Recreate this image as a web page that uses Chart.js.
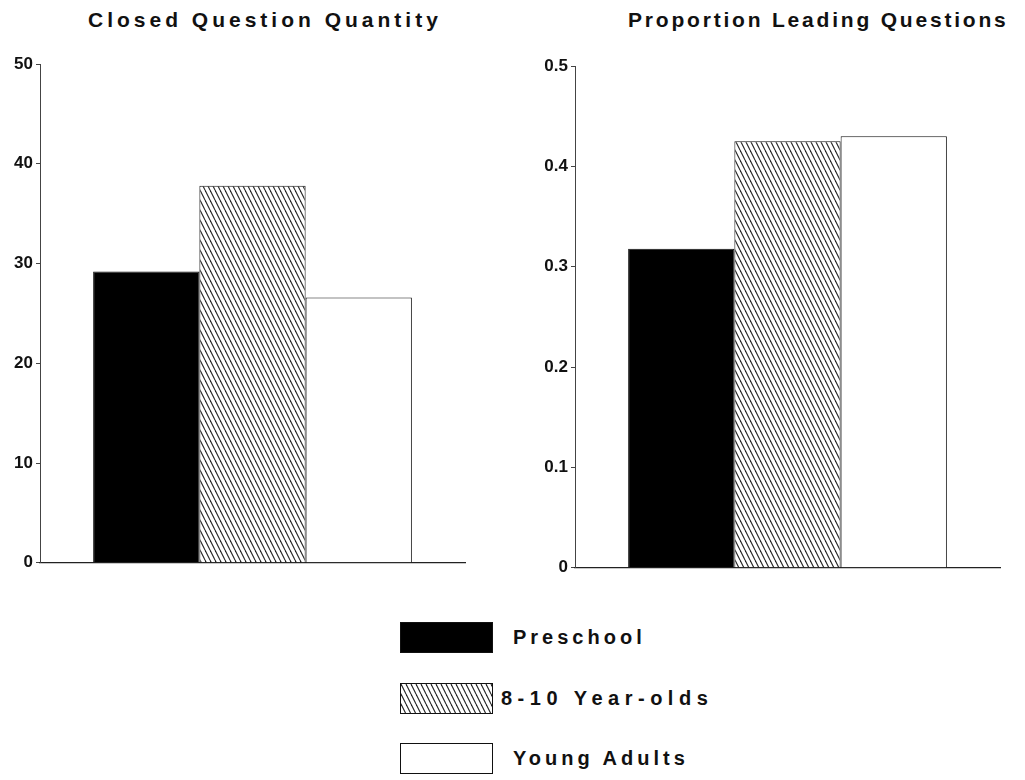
<!DOCTYPE html>
<html>
<head>
<meta charset="utf-8">
<script src="https://cdn.jsdelivr.net/npm/chart.js@4.4.1/dist/chart.umd.min.js"></script>
<style>
    body { margin: 0; background: #fff; width: 1025px; height: 780px; position: relative; overflow: hidden; font-family: "Liberation Sans", Arial, sans-serif; }
    .title { position: absolute; top: 8px; font-size: 21px; font-weight: bold; color: #111; white-space: nowrap; }
    .box { position: absolute; }
    .legend-row { position: absolute; left: 400px; height: 31px; display: flex; align-items: center; }
    .legend-row canvas { border: 1px solid #111; display: block; }
    .legend-row span { font-size: 20px; font-weight: bold; letter-spacing: 4px; color: #111; margin-left: 20px; }
</style>
</head>
<body>
<div class="title" id="titleLeft" style="left: 88px; letter-spacing: 4px;"></div>
<div class="title" id="titleRight" style="left: 628px; letter-spacing: 2.8px;"></div>
<div class="box" style="left: 0; top: 50px; width: 480px; height: 526px;"><canvas id="closedChart"></canvas></div>
<div class="box" style="left: 520px; top: 50px; width: 495px; height: 531px;"><canvas id="leadingChart"></canvas></div>
<div id="legend"></div>

<script>
// Data
const groups = ['Preschool', '8-10 Year-olds', 'Young Adults'];
const closedQuantity = [29.2, 37.8, 26.6];
const leadingProportion = [0.318, 0.425, 0.430];
const chartTitles = ['Closed Question Quantity', 'Proportion Leading Questions'];

// diagonal hatch used for the 8-10 group
const makeHatch = () => {
    const c = document.createElement('canvas');
    c.width = 5;
    c.height = 10;
    const ctx = c.getContext('2d');
    ctx.fillStyle = '#fff';
    ctx.fillRect(0, 0, 5, 10);
    ctx.strokeStyle = '#222';
    ctx.lineWidth = 1.1;
    [-5, 0, 5].forEach(x0 => {
        ctx.beginPath();
        ctx.moveTo(x0, 0);
        ctx.lineTo(x0 + 5, 10);
        ctx.stroke();
    });
    return c;
};

document.addEventListener('DOMContentLoaded', () => {
    const hatchCanvas = makeHatch();
    const pattern = document.createElement('canvas').getContext('2d').createPattern(hatchCanvas, 'repeat');
    const fills = ['#000', pattern, '#fff'];

    document.getElementById('titleLeft').textContent = chartTitles[0];
    document.getElementById('titleRight').textContent = chartTitles[1];

    const tickFont = { family: '"Liberation Sans", Arial, sans-serif', size: 17, weight: 'bold' };

    const buildChart = (id, values, max, step, axisWidth, pad, fmt) => {
        new Chart(document.getElementById(id), {
            type: 'bar',
            data: {
                labels: [''],
                datasets: groups.map((g, i) => ({
                    label: g,
                    data: [values[i]],
                    backgroundColor: fills[i],
                    borderColor: '#111',
                    borderWidth: 1,
                    barPercentage: 1,
                    categoryPercentage: 0.75
                }))
            },
            options: {
                responsive: true,
                maintainAspectRatio: false,
                animation: false,
                layout: { padding: pad },
                plugins: { legend: { display: false }, tooltip: { enabled: false } },
                scales: {
                    x: {
                        grid: { display: false },
                        ticks: { display: false },
                        border: { color: '#222', width: 1.2 },
                        afterFit: s => { s.height = 0; }
                    },
                    y: {
                        min: 0,
                        max: max,
                        grid: { drawOnChartArea: false, drawTicks: true, tickLength: 4, color: '#444' },
                        border: { color: '#444', width: 1 },
                        ticks: { stepSize: step, color: '#111', font: tickFont, padding: 3, callback: fmt },
                        afterFit: s => { s.width = axisWidth; }
                    }
                }
            }
        });
    };

    buildChart('closedChart', closedQuantity, 50, 10, 40, { top: 14, right: 15, bottom: 8 }, v => v);
    buildChart('leadingChart', leadingProportion, 0.5, 0.1, 55, { top: 16, right: 15, bottom: 8 },
        v => (v === 0 ? '0' : v.toFixed(1)));

    // legend below the charts
    const legend = document.getElementById('legend');
    const rowTops = [622, 683, 743];
    groups.forEach((g, i) => {
        const row = document.createElement('div');
        row.className = 'legend-row';
        row.style.top = rowTops[i] + 'px';
        const sw = document.createElement('canvas');
        sw.width = 91;
        sw.height = 29;
        const sctx = sw.getContext('2d');
        sctx.fillStyle = i === 1 ? sctx.createPattern(hatchCanvas, 'repeat') : fills[i];
        sctx.fillRect(0, 0, 91, 29);
        const label = document.createElement('span');
        label.textContent = g;
        if (i === 1) {
            label.style.marginLeft = '8px';
            label.style.letterSpacing = '5.5px';
        }
        row.appendChild(sw);
        row.appendChild(label);
        legend.appendChild(row);
    });
});
</script>
</body>
</html>
